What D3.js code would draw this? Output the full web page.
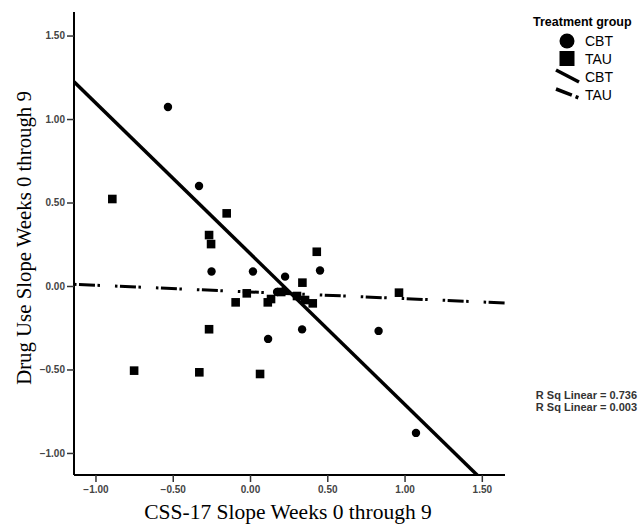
<!DOCTYPE html>
<html lang="en">
<head>
<meta charset="UTF-8">
<title>Drug use slope vs CSS-17 slope</title>
<script src="https://d3js.org/d3.v7.min.js"></script>
<style>
  body { margin: 0; background: #fff; }
  svg { display: block; }
  .tick-label { font-family: "Liberation Sans", Arial, sans-serif; font-size: 10px; font-weight: bold; fill: #444; }
  .axis-title { font-family: "Liberation Serif", "Times New Roman", serif; fill: #000; }
  .legend { font-family: "Liberation Sans", Arial, sans-serif; fill: #000; }
</style>
</head>
<body>
<svg width="638" height="525"></svg>
<script>
// CBT group (circles)
const cbtX = [-0.531, -0.330, -0.249, 0.019, 0.227, 0.453, 0.337, 0.117, 0.832, 1.074, 0.175, 0.220];
const cbtY = [1.072, 0.599, 0.087, 0.087, 0.056, 0.093, -0.260, -0.317, -0.269, -0.880, -0.036, -0.030];
// TAU group (squares)
const tauX = [-0.891, -0.151, -0.265, -0.252, 0.432, 0.339, -0.021, -0.093, 0.115, 0.136, 0.406, 0.964, -0.265, -0.750, -0.328, 0.065, 0.304, 0.356, 0.202];
const tauY = [0.521, 0.435, 0.305, 0.251, 0.205, 0.020, -0.044, -0.098, -0.098, -0.078, -0.104, -0.040, -0.259, -0.507, -0.517, -0.527, -0.060, -0.084, -0.036];
// fit lines: intercept, slope
const cbtFit = [0.195, -0.903];
const tauFit = [-0.0356, -0.040];
const xTicks = [-1.0, -0.5, 0.0, 0.5, 1.0, 1.5];
const yTicks = [-1.0, -0.5, 0.0, 0.5, 1.0, 1.5];
const xDomain = [-1.139, 1.65];
const yDomain = [-1.132, 1.641];
const legendTitle = "Treatment group";
const groups = ["CBT", "TAU"];
const rsq = ["R Sq Linear = 0.736", "R Sq Linear = 0.003"];

const svg = d3.select("svg");
const x = d3.scaleLinear().domain(xDomain).range([74, 505]);
const y = d3.scaleLinear().domain(yDomain).range([475, 12]);

svg.append("clipPath").attr("id", "plot")
  .append("rect").attr("x", 74).attr("y", 12).attr("width", 431).attr("height", 463);

// fit lines
const line = d3.line().x(d => x(d[0])).y(d => y(d[1]));
function fitPts(f) { return xDomain.map(v => [v, f[0] + f[1] * v]); }

svg.append("path").attr("clip-path", "url(#plot)")
  .attr("d", line(fitPts(cbtFit)))
  .attr("stroke", "#000").attr("stroke-width", 3.5).attr("fill", "none");
svg.append("path").attr("clip-path", "url(#plot)")
  .attr("d", line(fitPts(tauFit)))
  .attr("stroke", "#000").attr("stroke-width", 3).attr("fill", "none")
  .attr("stroke-dasharray", "2.5,2.5,16,2.5,2.5,15");

// points
svg.append("g").selectAll("circle")
  .data(d3.zip(cbtX, cbtY)).enter().append("circle")
  .attr("cx", d => x(d[0])).attr("cy", d => y(d[1])).attr("r", 4.2).attr("fill", "#000");
svg.append("g").selectAll("rect")
  .data(d3.zip(tauX, tauY)).enter().append("rect")
  .attr("x", d => x(d[0]) - 4.3).attr("y", d => y(d[1]) - 4.3)
  .attr("width", 8.6).attr("height", 8.6).attr("fill", "#000");

// axes
const xAxis = svg.append("g").attr("transform", "translate(0,475)")
  .call(d3.axisBottom(x).tickValues(xTicks).tickFormat(d3.format(".2f")).tickSize(7).tickPadding(4));
const yAxis = svg.append("g").attr("transform", "translate(74,0)")
  .call(d3.axisLeft(y).tickValues(yTicks).tickFormat(d3.format(".2f")).tickSize(7).tickPadding(2));
[xAxis, yAxis].forEach(a => {
  a.select(".domain").attr("stroke", "#000").attr("stroke-width", 2);
  a.selectAll(".tick line").attr("stroke", "#333").attr("stroke-width", 1.5);
  a.selectAll(".tick text").attr("class", "tick-label").attr("fill", null);
});
xAxis.select(".domain").attr("d", "M74,0H505");
yAxis.select(".domain").attr("d", "M0,12V475");

// axis titles
svg.append("text").attr("class", "axis-title").attr("font-size", 21.5)
  .attr("x", 288).attr("y", 519).attr("text-anchor", "middle")
  .text("CSS-17 Slope Weeks 0 through 9");
svg.append("text").attr("class", "axis-title").attr("font-size", 20.8)
  .attr("transform", "translate(31,238) rotate(-90)").attr("text-anchor", "middle")
  .text("Drug Use Slope Weeks 0 through 9");

// legend
const lg = svg.append("g").attr("class", "legend");
lg.append("text").attr("x", 533).attr("y", 26).attr("font-size", 12.5).attr("font-weight", "bold")
  .text(legendTitle);
lg.append("circle").attr("cx", 567).attr("cy", 41).attr("r", 7.5).attr("fill", "#000");
lg.append("rect").attr("x", 559.5).attr("y", 51).attr("width", 15).attr("height", 15).attr("fill", "#000");
lg.append("line").attr("x1", 556).attr("y1", 70).attr("x2", 579).attr("y2", 82)
  .attr("stroke", "#000").attr("stroke-width", 3.5);
lg.append("line").attr("x1", 556).attr("y1", 89).attr("x2", 579).attr("y2", 98)
  .attr("stroke", "#000").attr("stroke-width", 3.5).attr("stroke-dasharray", "17,4,3,30");
[46, 64, 82, 100].forEach((yy, i) => {
  lg.append("text").attr("x", 585).attr("y", yy).attr("font-size", 14).text(groups[i % 2]);
});
rsq.forEach((t, i) => {
  lg.append("text").attr("x", 637).attr("y", 399 + i * 12).attr("text-anchor", "end")
    .attr("font-size", 11).attr("font-weight", "bold").attr("fill", "#333").text(t);
});
</script>
</body>
</html>
